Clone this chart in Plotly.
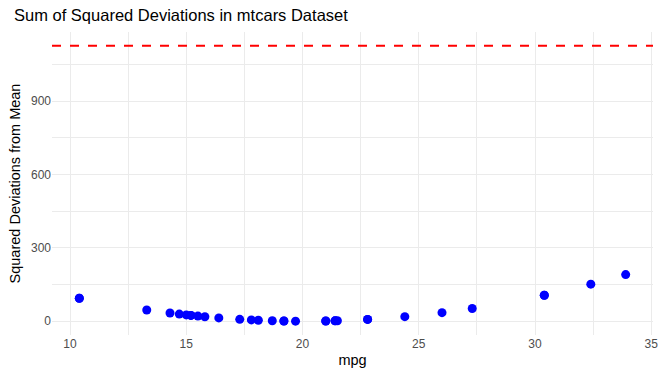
import plotly.graph_objects as go

mpg = [21.0, 21.0, 22.8, 21.4, 18.7, 18.1, 14.3, 24.4, 22.8, 19.2, 17.8, 16.4, 17.3, 15.2,
       10.4, 10.4, 14.7, 32.4, 30.4, 33.9, 21.5, 15.5, 15.2, 13.3, 19.2, 27.3, 26.0, 30.4,
       15.8, 19.7, 15.0, 21.4]
sq_dev = [0.827, 0.827, 7.341, 1.714, 1.934, 3.963, 33.531, 18.571, 7.341, 0.793, 5.247,
          13.621, 7.788, 23.918, 93.908, 93.908, 29.059, 151.521, 106.283, 190.709, 1.986,
          21.074, 23.918, 46.113, 0.793, 51.975, 34.921, 106.283, 18.410, 0.153, 25.915, 1.714]
total_ss = 1126.047

x_ticks = [10, 15, 20, 25, 30, 35]
y_ticks = [0, 300, 600, 900]

fig = go.Figure()
fig.add_trace(go.Scatter(x=mpg, y=sq_dev, mode="markers",
                         marker=dict(color="#0000FF", size=9, line=dict(width=0)),
                         showlegend=False))
fig.add_hline(y=total_ss, line=dict(color="#FF0000", width=2, dash="dash"))

grid = "#EBEBEB"
font = "Liberation Sans, Arial, sans-serif"
fig.update_layout(
    width=660, height=379,
    margin=dict(l=52, r=7, t=32, b=44, autoexpand=False),
    paper_bgcolor="white", plot_bgcolor="white",
    font=dict(family=font),
    title=dict(text="Sum of Squared Deviations in mtcars Dataset", x=14 / 660, xref="container",
               xanchor="left", y=1 - 15 / 379, yref="container", yanchor="middle",
               font=dict(size=16.5, color="black")),
    xaxis=dict(range=[9.225, 35.075], tickvals=x_ticks, ticktext=[str(v) for v in x_ticks],
               showgrid=True, gridcolor=grid, gridwidth=1.2, zeroline=False, showline=False,
               ticks="", tickfont=dict(size=12, color="#4D4D4D"), automargin=False,
               minor=dict(tickvals=[12.5, 17.5, 22.5, 27.5, 32.5], showgrid=True,
                          gridcolor=grid, gridwidth=0.8),
               title=dict(text="mpg", font=dict(size=14.5, color="black"), standoff=4)),
    yaxis=dict(range=[-56.3, 1182.3], tickvals=y_ticks, ticktext=[str(v) for v in y_ticks],
               showgrid=True, gridcolor=grid, gridwidth=1.2, zeroline=False, showline=False,
               ticks="", tickfont=dict(size=12, color="#4D4D4D"), automargin=False,
               minor=dict(tickvals=[150, 450, 750, 1050], showgrid=True,
                          gridcolor=grid, gridwidth=0.8),
               title=dict(text="Squared Deviations from Mean", font=dict(size=14.5, color="black"),
                          standoff=6)),
)
fig.write_html("out.html", config={"displayModeBar": False},
               post_script="document.body.style.margin='0px';")
